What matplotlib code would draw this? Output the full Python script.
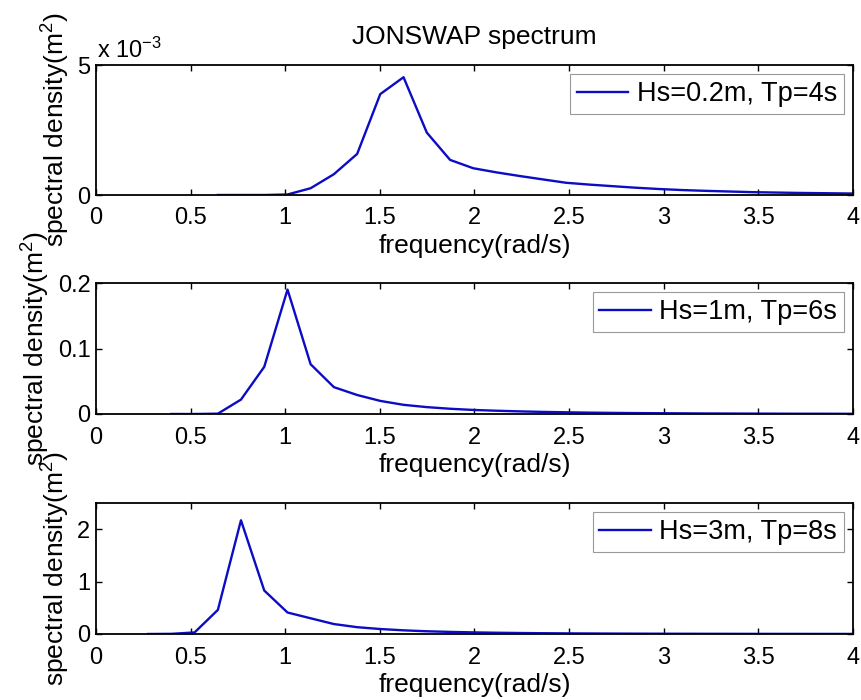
import numpy as np
import matplotlib
matplotlib.use("Agg")
import matplotlib.pyplot as plt
from matplotlib.ticker import FuncFormatter

plt.rcParams['font.family'] = ['Liberation Sans', 'DejaVu Sans']
plt.rcParams['mathtext.fontset'] = 'custom'
plt.rcParams['mathtext.rm'] = 'Liberation Sans'
plt.rcParams['mathtext.it'] = 'Liberation Sans:italic'

# frequency grid (rad/s)
freq = [0.275, 0.398, 0.521, 0.644, 0.766, 0.889, 1.012, 1.134, 1.257, 1.380,
        1.502, 1.625, 1.748, 1.871, 1.993, 2.116, 2.239, 2.361, 2.484, 2.607,
        2.729, 2.852, 2.975, 3.098, 3.220, 3.343, 3.466, 3.588, 3.711, 3.834,
        3.956, 4.079]

nan = np.nan
# Hs=0.2m, Tp=4s  (units of 1e-3 m^2)
s1 = [nan, nan, nan, 0.0, 0.0, 0.0, 0.02, 0.26, 0.80, 1.58,
      3.88, 4.53, 2.40, 1.35, 1.03, 0.87, 0.73, 0.60, 0.47, 0.40,
      0.34, 0.28, 0.23, 0.19, 0.16, 0.135, 0.11, 0.095, 0.08, 0.07,
      0.06, 0.05]
# Hs=1m, Tp=6s
s2 = [nan, 0.0, 0.0, 0.0005, 0.022, 0.072, 0.19, 0.076, 0.041, 0.029,
      0.020, 0.014, 0.0105, 0.008, 0.0062, 0.005, 0.004, 0.0032, 0.0026, 0.0021,
      0.0017, 0.0014, 0.0012, 0.001, 0.0008, 0.0007, 0.0006, 0.0005, 0.0004, 0.0004,
      0.0003, 0.0003]
# Hs=3m, Tp=8s
s3 = [0.0, 0.003, 0.03, 0.46, 2.17, 0.83, 0.41, 0.30, 0.19, 0.13,
      0.095, 0.07, 0.052, 0.04, 0.031, 0.024, 0.019, 0.015, 0.012, 0.01,
      0.008, 0.0065, 0.0055, 0.0045, 0.0038, 0.0032, 0.0027, 0.0023, 0.002, 0.0017,
      0.0015, 0.0013]

labels = ['Hs=0.2m, Tp=4s', 'Hs=1m, Tp=6s', 'Hs=3m, Tp=8s']
ylims = [(0, 0.005), (0, 0.2), (0, 2.5)]
yticks = [[0, 0.005], [0, 0.1, 0.2], [0, 1, 2]]

fig = plt.figure(figsize=(8.62, 7.0), dpi=100)
W, H = 862.0, 700.0
boxes = [(96, 65, 195), (96, 283, 414), (96, 503, 634)]
blue = '#0c0cc4'
tick_fs = 17
lab_fs = 19

series = [np.array(s1) * 1e-3, np.array(s2), np.array(s3)]
for i, (left, top, bot) in enumerate(boxes):
    ax = fig.add_axes([left / W, 1 - bot / H, (853 - left) / W, (bot - top) / H])
    ax.plot(freq, series[i], color=blue, lw=1.7, label=labels[i])
    ax.set_xlim(0, 4)
    ax.set_ylim(*ylims[i])
    ax.set_xticks(np.arange(0, 4.01, 0.5))
    ax.set_yticks(yticks[i])
    ax.xaxis.set_major_formatter(FuncFormatter(lambda v, p: '%g' % v))
    if i == 0:
        ax.yaxis.set_major_formatter(FuncFormatter(lambda v, p: '%g' % (v * 1e3)))
        ax.annotate(r'x 10$^{-3}$', xy=(0, 1), xycoords='axes fraction',
                    xytext=(1, 5), textcoords='offset points',
                    ha='left', va='baseline', fontsize=tick_fs)
        ax.set_title('JONSWAP spectrum', fontsize=lab_fs, pad=15)
    else:
        ax.yaxis.set_major_formatter(FuncFormatter(lambda v, p: '%g' % v))
    ax.tick_params(direction='in', length=4, width=1, top=True, right=True,
                   labelsize=tick_fs)
    ax.tick_params(axis='x', pad=9)
    ax.tick_params(axis='y', pad=4)
    for sp in ax.spines.values():
        sp.set_linewidth(1.3)
    ax.set_xlabel('frequency(rad/s)', fontsize=lab_fs, labelpad=3)
    ax.set_ylabel(r'spectral density(m$^2$)', fontsize=lab_fs, labelpad=4)
    leg = ax.legend(loc='upper right', fontsize=19.5, fancybox=False,
                    edgecolor='#999999', framealpha=1, handlelength=1.9,
                    handletextpad=0.3, borderpad=0.25, borderaxespad=0.35)
    leg.get_frame().set_linewidth(0.8)

fig.savefig('out.png', dpi=100)
